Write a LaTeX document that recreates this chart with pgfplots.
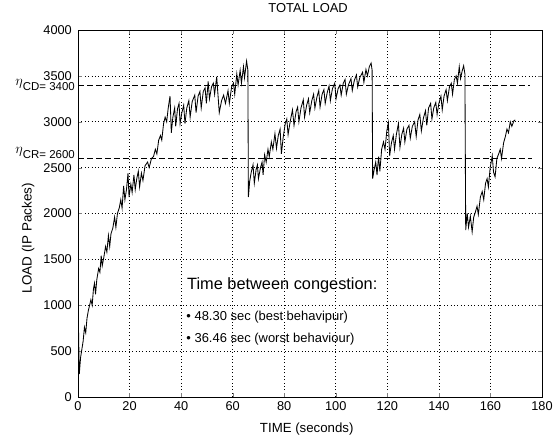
\documentclass[border=0pt]{standalone}
\usepackage{pgfplots}
\pgfplotsset{compat=1.18}
\usepackage{fontspec}
\setmainfont{Liberation Sans}

% eta threshold labels on the left: #1 text, #2 vertical offset of the text baseline
\newcommand{\etalab}[2]{\raisebox{#2}{\smash{\raisebox{5bp}{\fontsize{15}{15}\selectfont$\eta$}}{\fontsize{11.5}{12}\selectfont #1}}\kern-3bp}

\begin{document}
\begin{tikzpicture}
\useasboundingbox (-78bp,-42bp) rectangle (475bp,397bp);
\begin{axis}[
  at={(0,0)}, anchor=south west,
  scale only axis, width=464bp, height=367bp,
  xmin=0, xmax=180, ymin=0, ymax=4000,
  xtick={0,20,...,180}, ytick={0,500,...,4000},
  tick align=inside, major tick length=4bp,
  grid=major,
  major grid style={black, line width=0.6pt, dash pattern=on 0.8pt off 2.6pt},
  axis line style={black, line width=0.6pt},
  /pgf/number format/assume math mode=true,
  /pgf/number format/set thousands separator={},
  ticklabel style={font=\fontsize{12.8}{14}\selectfont},
  xticklabel style={anchor=base, yshift=-13.5bp},
  yticklabel style={anchor=east, inner xsep=0pt, xshift=-6bp},
  extra y ticks={2600,3400},
  extra y tick labels={{\etalab{CR= 2600}{0bp}},{\etalab{CD= 3400}{-5.5bp}}},
  extra y tick style={grid=none, major tick length=0pt, yticklabel style={anchor=base east, inner ysep=0pt}},
  title={TOTAL LOAD},
  title style={font=\fontsize{13}{15}\selectfont, at={(axis description cs:0.496,1.0327)}, anchor=base},
  xlabel={TIME (seconds)},
  xlabel style={font=\fontsize{13.3}{15}\selectfont, at={(axis description cs:0.493,-0.0954)}, anchor=base},
  ylabel={LOAD (IP Packes)},
  ylabel style={font=\fontsize{13.5}{15}\selectfont, at={(axis description cs:-0.1002,0.433)}, anchor=base},
]
% congestion thresholds
\addplot[black, line width=0.9pt, dash pattern=on 6bp off 3bp] coordinates {(0,3400) (175.5,3400)};
\addplot[black, line width=0.9pt, dash pattern=on 6bp off 3bp] coordinates {(0,2600) (176,2600)};

% total load
\addplot[black, line width=0.85pt] coordinates {
(0,120) (0.2,740) (0.5,250) (1,430) (1.5,520) (2,610) (2.5,760) (3,700) (3.5,860) (4,940)
(4.5,1000) (5,1060) (5.5,1000) (6,1180) (6.4,1240) (6.8,1120) (7.3,1280) (8,1400) (8.5,1360)
(9,1540) (9.4,1430) (10,1520) (10.7,1640) (11.2,1580) (11.8,1760) (12.3,1640) (12.8,1780)
(13.5,1840) (14.2,1960) (14.7,1850) (15.3,2000) (16,2060) (16.6,2150) (17.1,2060) (17.7,2300)
(18.2,2150) (18.8,2260) (19.4,2440) (19.8,2180) (20.5,2320) (21,2230) (21.7,2420) (22.2,2260)
(22.8,2380) (23.4,2460) (23.9,2290) (24.6,2440) (25.2,2360) (26,2520) (27,2560) (27.6,2500)
(28.5,2600) (29.3,2620) (30,2700) (30.6,2650) (31.3,2800) (32,2850) (32.5,2800) (33.2,2980)
(33.8,3050) (34.4,3000) (35,3150) (35.7,3280) (36.2,2880) (36.8,3050) (37.5,3150) (37.9,2950)
(38.6,3140) (39.2,3200) (39.6,2980) (40.3,3100) (41,3180) (41.5,2980) (42.2,3150) (43,3230)
(43.5,3050) (44.3,3220) (45.3,3290) (45.8,3100) (46.6,3280) (47.3,3330) (47.8,3150) (48.6,3330)
(49.3,3370) (49.8,3200) (50.5,3440) (51,3250) (51.8,3380) (52.5,3420) (53,3300) (53.8,3490)
(54.8,3100) (55.7,3230) (56.5,3290) (57.2,3200) (58.2,3340) (58.7,3200) (59.6,3380) (60.3,3420)
(60.8,3300) (61.6,3520) (62.1,3400) (62.9,3560) (63.4,3420) (64.2,3600) (64.6,3480) (65.4,3660)
(65.9,3560) (66.1,2180)
(66.6,2350) (67.2,2450) (67.9,2530) (68.4,2330) (69.1,2480) (69.6,2530) (70,2380) (70.8,2500)
(71.4,2560) (71.8,2420) (72.4,2640) (73,2560) (73.7,2700) (74.2,2620) (75,2780) (75.6,2700)
(76.4,2870) (77,2710) (77.7,2850) (78.4,2920) (78.9,2650) (79.6,2830) (80.4,2980) (81,3030)
(81.5,2860) (82.3,3000) (83.2,3130) (83.8,2960) (84.6,3110) (85.2,3160) (85.7,3000) (86.5,3150)
(87.4,3240) (87.9,3050) (88.7,3180) (89.4,3250) (89.9,3100) (90.7,3230) (91.4,3300) (91.9,3150)
(92.7,3270) (93.4,3340) (93.9,3160) (94.7,3300) (95.4,3350) (95.9,3200) (96.7,3320) (97.4,3390)
(97.9,3230) (98.7,3360) (99.6,3420) (100.1,3250) (100.9,3360) (101.6,3400) (102.1,3290)
(102.9,3420) (103.6,3460) (104.1,3300) (104.9,3400) (105.9,3470) (106.4,3340) (107.2,3450)
(108,3510) (108.5,3380) (109.3,3480) (110.4,3540) (110.9,3430) (111.7,3570) (112.3,3500)
(113,3600) (113.7,3640) (114.1,3560) (114.3,2380)
(114.9,2480) (115.5,2560) (116,2420) (116.6,2620) (117.1,2460) (117.8,2700) (118.5,2780)
(119.1,2700) (119.8,2900) (120.4,2990) (120.9,2630) (121.6,2770) (122.3,2850) (122.8,2700)
(123.5,2860) (124.3,2980) (124.9,2720) (125.6,2860) (126.3,2930) (126.8,2780) (127.6,2920)
(128.4,2960) (128.9,2820) (129.7,2950) (130.6,3000) (131.2,2840) (131.9,3020) (132.6,3080)
(133.2,2900) (134,3040) (134.8,3120) (135.3,2960) (136,3150) (136.8,3200) (137.3,3030)
(138,3150) (138.8,3210) (139.3,3080) (140,3200) (140.8,3280) (141.3,3130) (142,3280)
(142.8,3350) (143.3,3230) (144.1,3380) (144.8,3420) (145.3,3300) (146,3460) (146.7,3500)
(147.2,3420) (147.9,3600) (148.4,3470) (149,3550) (149.6,3610) (150.1,3520) (150.4,1820)
(151,2000) (151.5,1850) (152.2,1970) (152.9,1800) (153.5,1960) (154.2,2020) (154.8,2080)
(155.3,1990) (156.1,2180) (156.8,2240) (157.4,2150) (158.1,2330) (158.7,2380) (159.2,2290)
(159.9,2500) (160.7,2630) (161.2,2450) (161.8,2400) (162.5,2600) (163.2,2650) (163.8,2700)
(164.3,2600) (165.1,2770) (165.8,2840) (166.4,2920) (167,2880) (167.7,3000) (168.3,2950)
(169.1,3010) (169.6,3020)
};

\node[anchor=base west, inner sep=0pt, font=\fontsize{16.4}{18}\selectfont] at (axis cs:42.3,1172) {Time between congestion:};
\node[anchor=base west, inner sep=0pt, font=\fontsize{13}{15}\selectfont] at (axis cs:42,837) {\textbullet\ 48.30 sec (best behavipur)};
\node[anchor=base west, inner sep=0pt, font=\fontsize{13}{15}\selectfont] at (axis cs:42,589) {\textbullet\ 36.46 sec (worst behaviour)};
\end{axis}
\end{tikzpicture}
\end{document}
